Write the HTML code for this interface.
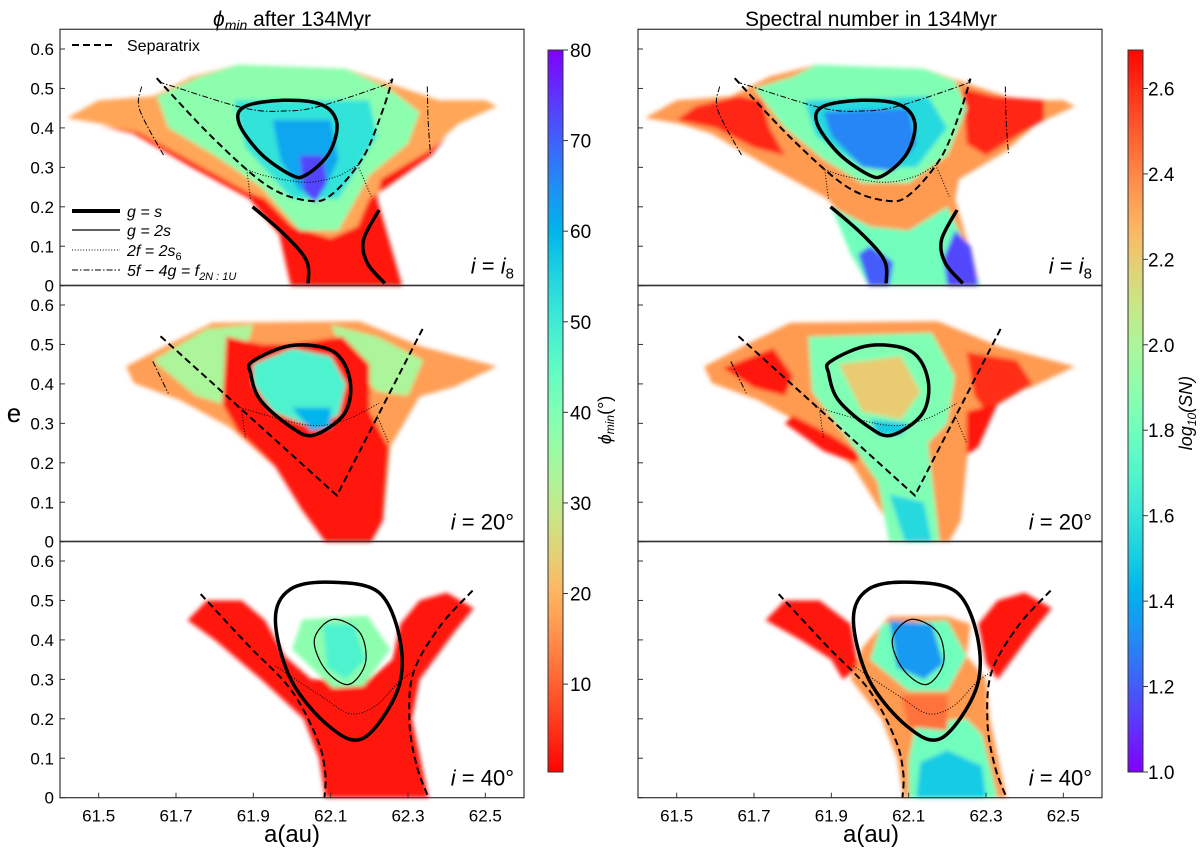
<!DOCTYPE html>
<html><head><meta charset="utf-8">
<style>
html,body{margin:0;padding:0;background:#fff;}
svg{display:block;font-family:"Liberation Sans","DejaVu Sans",sans-serif;}
</style></head>
<body>
<svg id="fig" width="1200" height="850" viewBox="0 0 1200 850" xmlns="http://www.w3.org/2000/svg">
<defs>
<filter id="soft" x="-5%" y="-5%" width="110%" height="110%"><feGaussianBlur stdDeviation="2"/></filter>
<linearGradient id="cbL" x1="0" y1="1" x2="0" y2="0"></linearGradient>
<linearGradient id="cbR" x1="0" y1="1" x2="0" y2="0"></linearGradient>
</defs>
<text x="292" y="26" font-size="21" text-anchor="middle"><tspan font-style="italic">ϕ</tspan><tspan font-style="italic" font-size="14" dy="4">min</tspan><tspan dy="-4"> after 134Myr</tspan></text>
<text x="871" y="26" font-size="21" text-anchor="middle">Spectral number in 134Myr</text>
<text x="14" y="422" font-size="26" text-anchor="middle">e</text>
<text x="292" y="842" font-size="24" text-anchor="middle">a(au)</text>
<text x="871" y="842" font-size="24" text-anchor="middle">a(au)</text>
<g id="layer"></g>
</svg>
<script>
// ---------- data: heat regions (a, e) ----------
const LT_outer=[[61.418,0.425],[61.5,0.47],[61.64,0.48],[61.74,0.53],[61.86,0.56],[62.14,0.55],[62.23,0.52],[62.38,0.47],[62.5,0.47],[62.53,0.455],[62.43,0.41],[62.35,0.34],[62.23,0.27],[62.22,0.22],[62.285,0],[61.997,0],[61.967,0.13],[61.89,0.22],[61.74,0.30],[61.59,0.385],[61.51,0.41]];
const LT_red=[[61.5,0.405],[61.6,0.39],[61.75,0.31],[61.88,0.24],[61.93,0.22],[62.0,0.15],[62.1,0.12],[62.17,0.15],[62.2,0.22],[62.26,0.26],[62.36,0.33],[62.4,0.38],[62.35,0.34],[62.23,0.27],[62.22,0.22],[62.285,0],[61.997,0],[61.967,0.13],[61.89,0.22],[61.74,0.30],[61.59,0.385]];
const LT_green=[[61.65,0.48],[61.76,0.53],[61.86,0.56],[62.14,0.55],[62.25,0.5],[62.33,0.44],[62.3,0.36],[62.2,0.28],[62.12,0.14],[62.02,0.14],[61.92,0.25],[61.8,0.33],[61.68,0.4]];
const LT_cyan=[[61.85,0.47],[62.2,0.47],[62.22,0.38],[62.12,0.22],[62.0,0.22],[61.88,0.35]];
const LT_blue=[[61.95,0.42],[62.1,0.42],[62.12,0.32],[62.08,0.24],[62.02,0.24],[61.97,0.32]];
const LT_purple=[[62.02,0.33],[62.08,0.33],[62.09,0.26],[62.06,0.21],[62.03,0.24]];
const LT_values=[18,2,38,52,62,73];

const RT_redL=[[61.55,0.455],[61.66,0.48],[61.72,0.47],[61.74,0.40],[61.78,0.33],[61.7,0.35],[61.6,0.40],[61.5,0.42]];
const RT_redR=[[62.24,0.5],[62.32,0.48],[62.45,0.47],[62.45,0.42],[62.38,0.38],[62.3,0.33],[62.25,0.36]];
const RT_green=[[61.7,0.5],[61.8,0.53],[61.86,0.56],[62.14,0.55],[62.22,0.52],[62.25,0.45],[62.2,0.33],[62.1,0.26],[61.98,0.26],[61.88,0.32],[61.78,0.4]];
const RT_stem=[[61.9,0.2],[62.0,0.15],[62.1,0.14],[62.2,0.2],[62.24,0.12],[62.285,0],[61.997,0],[61.95,0.08]];
const RT_cyan=[[61.83,0.47],[62.15,0.48],[62.2,0.4],[62.12,0.3],[61.98,0.3],[61.86,0.38]];
const RT_blue=[[61.88,0.44],[62.1,0.45],[62.12,0.36],[62.06,0.29],[61.98,0.3],[61.9,0.38]];
const RT_stemBlueL=[[61.997,0],[62.05,0],[62.06,0.06],[62.0,0.1],[61.97,0.08]];
const RT_stemBlueR=[[62.2,0],[62.28,0],[62.26,0.1],[62.22,0.14],[62.19,0.07]];
const RT_values=[2.35,2.62,2.62,1.85,1.8,1.55,1.3,1.2,1.15];

const LM_outer=[[61.571,0.444],[61.68,0.5],[61.794,0.555],[62.175,0.559],[62.334,0.495],[62.53,0.444],[62.42,0.393],[62.33,0.368],[62.254,0.24],[62.235,0.054],[62.205,0],[62.086,0],[62.027,0.079],[61.957,0.19],[61.839,0.29],[61.71,0.359],[61.591,0.402]];
const LM_greenL=[[61.64,0.46],[61.78,0.54],[61.9,0.55],[61.86,0.42],[61.85,0.34],[61.75,0.37]];
const LM_greenR=[[62.1,0.55],[62.22,0.52],[62.34,0.46],[62.3,0.37],[62.22,0.38],[62.15,0.45]];
const LM_red=[[61.83,0.52],[61.92,0.50],[62.0,0.5],[62.13,0.52],[62.2,0.45],[62.2,0.33],[62.25,0.24],[62.235,0.054],[62.205,0],[62.086,0],[62.027,0.079],[61.957,0.19],[61.86,0.28],[61.82,0.35]];
const LM_cyan=[[61.9,0.45],[62.0,0.49],[62.1,0.47],[62.14,0.4],[62.12,0.32],[62.05,0.29],[61.95,0.33],[61.9,0.4]];
const LM_blue=[[62.0,0.34],[62.1,0.34],[62.1,0.29],[62.05,0.28]];
const LM_values=[17,33,33,2,48,60];

const RM_redL=[[61.62,0.44],[61.75,0.49],[61.8,0.42],[61.78,0.37],[61.7,0.39]];
const RM_redR=[[62.25,0.48],[62.38,0.46],[62.42,0.4],[62.3,0.33],[62.27,0.37]];
const RM_redLowL=[[61.8,0.32],[61.9,0.27],[61.98,0.22],[61.96,0.2],[61.88,0.23],[61.78,0.3]];
const RM_redLowR=[[62.25,0.33],[62.33,0.35],[62.28,0.24],[62.25,0.22]];
const RM_green=[[61.84,0.52],[62.16,0.53],[62.22,0.42],[62.2,0.3],[62.15,0.25],[62.18,0.0],[62.05,0],[62.02,0.15],[61.95,0.25],[61.85,0.38]];
const RM_mix=[[61.92,0.45],[62.08,0.47],[62.13,0.38],[62.08,0.31],[61.98,0.33]];
const RM_cyanLow=[[62.05,0.12],[62.14,0.1],[62.16,0],[62.09,0]];
const RM_cyanMid=[[62.0,0.31],[62.1,0.3],[62.08,0.27],[62.02,0.27]];
const RM_values=[2.35,2.65,2.6,2.65,2.65,1.85,2.2,1.55,1.5];

const LB_red=[[62.086,0],[62.353,0],[62.31,0.2],[62.33,0.3],[62.42,0.42],[62.47,0.48],[62.4,0.52],[62.33,0.5],[62.28,0.44],[62.26,0.35],[62.2,0.3],[62.05,0.3],[61.98,0.36],[61.93,0.45],[61.87,0.5],[61.78,0.5],[61.73,0.45],[61.8,0.4],[61.92,0.3],[62.03,0.2],[62.07,0.1]];
const LB_green=[[62.027,0.452],[62.195,0.461],[62.254,0.376],[62.185,0.283],[62.106,0.278],[62.0,0.376]];
const LB_cyan=[[62.08,0.44],[62.16,0.44],[62.19,0.35],[62.14,0.3],[62.09,0.33]];
const LB_values=[2,38,48];

const RB_redL=[[61.73,0.45],[61.78,0.5],[61.87,0.5],[61.95,0.44],[61.97,0.33],[61.93,0.3],[61.9,0.35],[61.82,0.4]];
const RB_redR=[[62.28,0.44],[62.33,0.5],[62.4,0.52],[62.47,0.48],[62.42,0.42],[62.33,0.3],[62.3,0.34]];
const RB_stem=[[62.086,0],[62.353,0],[62.31,0.2],[62.3,0.3],[62.25,0.36],[62.26,0.44],[62.2,0.46],[62.05,0.46],[61.98,0.38],[61.95,0.3],[62.03,0.2],[62.07,0.1]];
const RB_green=[[62.03,0.44],[62.2,0.45],[62.25,0.36],[62.2,0.27],[62.1,0.27],[62.0,0.35]];
const RB_stemGreen=[[62.1,0],[62.33,0],[62.29,0.16],[62.25,0.2],[62.12,0.19],[62.1,0.1]];
const RB_blue=[[62.05,0.45],[62.16,0.44],[62.19,0.34],[62.14,0.3],[62.07,0.33]];
const RB_stemCyan=[[62.12,0],[62.3,0],[62.29,0.08],[62.2,0.12],[62.13,0.09]];
const RB_redMid=[[62.08,0.26],[62.2,0.26],[62.2,0.17],[62.1,0.18]];
const RB_values=[2.65,2.65,2.35,1.8,1.8,1.35,1.5,2.45];

// ---------- data: resonance curves ----------
const loop0=[[61.878,0.454],[61.977,0.47],[62.076,0.459],[62.116,0.412],[62.096,0.336],[62.037,0.281],[61.997,0.281],[61.918,0.336],[61.863,0.412]];
const sep0=[[61.65,0.526],[61.80,0.37],[61.94,0.251],[62.047,0.215],[62.106,0.234],[62.185,0.327],[62.235,0.446],[62.26,0.525]];
const ddTop0=[[61.66,0.515],[61.68,0.509],[61.878,0.45],[61.987,0.443],[62.076,0.456],[62.24,0.509],[62.254,0.522]];
const ddL0=[[61.611,0.505],[61.606,0.446],[61.67,0.327]];
const ddR0=[[62.35,0.505],[62.352,0.42],[62.358,0.336]];
const dot0=[[61.883,0.294],[61.938,0.277],[62.037,0.262],[62.116,0.277],[62.17,0.306]];
const dot0L=[[61.883,0.294],[61.893,0.217]];
const dot0R=[[62.17,0.306],[62.205,0.226]];
const lowL0=[[61.898,0.2],[61.977,0.133],[62.037,0.065],[62.042,0.006]];
const lowR0=[[62.225,0.192],[62.185,0.116],[62.195,0.057],[62.24,0.006]];

const loop1=[[61.898,0.457],[61.997,0.497],[62.106,0.483],[62.15,0.41],[62.136,0.325],[62.056,0.27],[61.997,0.291],[61.918,0.359],[61.893,0.427]];
const sep1=[[61.66,0.521],[62.116,0.117],[62.339,0.542]];
const dot1=[[61.858,0.342],[62.037,0.296],[62.136,0.308],[62.225,0.351]];
const dot1L=[[61.87,0.33],[61.88,0.26]];
const dot1R=[[62.22,0.32],[62.25,0.25]];
const ddL1=[[61.64,0.457],[61.68,0.376]];

const loop2=[[62.106,0.546],[62.225,0.52],[62.279,0.402],[62.274,0.274],[62.185,0.151],[62.096,0.181],[61.997,0.3],[61.957,0.452],[61.997,0.529]];
const ell2=[[62.106,0.452],[62.175,0.419],[62.19,0.342],[62.146,0.287],[62.086,0.325],[62.058,0.401]];
const sepL2=[[61.764,0.516],[61.888,0.385],[61.997,0.274],[62.066,0.147],[62.086,0.062],[62.084,0]];
const sepR2=[[62.467,0.525],[62.383,0.435],[62.314,0.317],[62.304,0.189],[62.323,0.079],[62.353,0]];
const dot2=[[61.957,0.334],[62.076,0.257],[62.15,0.213],[62.215,0.232],[62.274,0.291],[62.31,0.317]];

// ticks
const eTicks=[0,0.1,0.2,0.3,0.4,0.5,0.6];
const eTickLabels=["0","0.1","0.2","0.3","0.4","0.5","0.6"];
const aTicks=[61.5,61.7,61.9,62.1,62.3,62.5];
const aTickLabels=["61.5","61.7","61.9","62.1","62.3","62.5"];
const cbLTicks=[10,20,30,40,50,60,70,80];
const cbRTicks=[1.0,1.2,1.4,1.6,1.8,2.0,2.2,2.4,2.6];
const cbRTickLabels=["1.0","1.2","1.4","1.6","1.8","2.0","2.2","2.4","2.6"];

// ---------- geometry ----------
const NS="http://www.w3.org/2000/svg";
const root=document.getElementById('layer');
const A0=61.4,A1=62.6,PW=464,EMAX=0.65,KE=394.5;
const panelLeft=[60,638];
const rowBase=[285.7,541.7,797.7];
function xs(col,a){return panelLeft[col]+(a-A0)/(A1-A0)*PW;}
function ys(row,e){return rowBase[row]-e*KE;}
function rainbow(t){t=Math.max(0,Math.min(1,t));
 const r=Math.min(1,Math.abs(2*t-0.5)),g=Math.sin(Math.PI*t),b=Math.cos(Math.PI*t/2);
 return `rgb(${Math.round(r*255)},${Math.round(g*255)},${Math.round(b*255)})`;}
function colL(v){return rainbow(1-v/80);}
function colR(v){return rainbow((v-1.0)/1.7);}
function mk(tag,attrs,parent){const el=document.createElementNS(NS,tag);for(const k in attrs)el.setAttribute(k,attrs[k]);(parent||root).appendChild(el);return el;}
function poly(col,row,pts){return pts.map(p=>xs(col,p[0]).toFixed(1)+','+ys(row,p[1]).toFixed(1)).join(' ');}
function smooth(col,row,pts,closed){
 const P=pts.map(p=>[xs(col,p[0]),ys(row,p[1])]);const n=P.length;
 if(n<3&&!closed){return 'M'+P.map(p=>p[0].toFixed(1)+','+p[1].toFixed(1)).join(' L');}
 const g=i=>closed?P[(i+n)%n]:P[Math.max(0,Math.min(n-1,i))];
 let d='M'+P[0][0].toFixed(1)+','+P[0][1].toFixed(1);
 const m=closed?n:n-1;
 for(let i=0;i<m;i++){const p0=g(i-1),p1=g(i),p2=g(i+1),p3=g(i+2);
  const c1=[p1[0]+(p2[0]-p0[0])/6,p1[1]+(p2[1]-p0[1])/6],c2=[p2[0]-(p3[0]-p1[0])/6,p2[1]-(p3[1]-p1[1])/6];
  d+=` C${c1[0].toFixed(1)},${c1[1].toFixed(1)} ${c2[0].toFixed(1)},${c2[1].toFixed(1)} ${p2[0].toFixed(1)},${p2[1].toFixed(1)}`;}
 return d+(closed?'Z':'');}

// ---------- heat layers ----------
const heat=[
 {col:0,row:0,cf:colL,layers:[LT_outer,LT_red,LT_green,LT_cyan,LT_blue,LT_purple],vals:LT_values},
 {col:1,row:0,cf:colR,layers:[LT_outer,RT_redL,RT_redR,RT_green,RT_stem,RT_cyan,RT_blue,RT_stemBlueL,RT_stemBlueR],vals:RT_values},
 {col:0,row:1,cf:colL,layers:[LM_outer,LM_greenL,LM_greenR,LM_red,LM_cyan,LM_blue],vals:LM_values},
 {col:1,row:1,cf:colR,layers:[LM_outer,RM_redL,RM_redR,RM_redLowL,RM_redLowR,RM_green,RM_mix,RM_cyanLow,RM_cyanMid],vals:RM_values},
 {col:0,row:2,cf:colL,layers:[LB_red,LB_green,LB_cyan],vals:LB_values},
 {col:1,row:2,cf:colR,layers:[RB_redL,RB_redR,RB_stem,RB_green,RB_stemGreen,RB_blue,RB_stemCyan,RB_redMid],vals:RB_values}
];
heat.forEach((h,hi)=>{
 const g=mk('g',{filter:'url(#soft)'});
 
 
 h.layers.forEach((L,li)=>{
  const p=mk('polygon',{points:poly(h.col,h.row,L),fill:h.cf(h.vals[li])},g);
  
  
 });
});

// ---------- curves ----------
const THICK={stroke:'#000','stroke-width':3.5,fill:'none'};
const SEP={stroke:'#000','stroke-width':2,fill:'none','stroke-dasharray':'7,4'};
const DD={stroke:'#000','stroke-width':1,fill:'none','stroke-dasharray':'6,2,1.5,2'};
const DOT={stroke:'#000','stroke-width':1,fill:'none','stroke-dasharray':'1,1.8'};
const THIN={stroke:'#000','stroke-width':1.2,fill:'none'};
const curves=[
 {row:0,pts:loop0,st:THICK,closed:true,name:'g-equals-s-curve'},
 {row:0,pts:sep0,st:SEP,name:'separatrix'},
 {row:0,pts:ddTop0,st:DD,name:'resonance-5f-4g-curve'},
 {row:0,pts:ddL0,st:DD,name:'resonance-5f-4g-curve'},
 {row:0,pts:ddR0,st:DD,name:'resonance-5f-4g-curve'},
 {row:0,pts:dot0,st:DOT,name:'secular-2f-2s6-curve'},
 {row:0,pts:dot0L,st:DOT,name:'secular-2f-2s6-curve'},
 {row:0,pts:dot0R,st:DOT,name:'secular-2f-2s6-curve'},
 {row:0,pts:lowL0,st:THICK,name:'g-equals-s-curve'},
 {row:0,pts:lowR0,st:THICK,name:'g-equals-s-curve'},
 {row:1,pts:loop1,st:THICK,closed:true,name:'g-equals-s-curve'},
 {row:1,pts:sep1,st:SEP,name:'separatrix'},
 {row:1,pts:dot1,st:DOT,name:'secular-2f-2s6-curve'},
 {row:1,pts:dot1L,st:DOT,name:'secular-2f-2s6-curve'},
 {row:1,pts:dot1R,st:DOT,name:'secular-2f-2s6-curve'},
 {row:1,pts:ddL1,st:DD,name:'resonance-5f-4g-curve'},
 {row:2,pts:loop2,st:THICK,closed:true,name:'g-equals-s-curve'},
 {row:2,pts:ell2,st:THIN,closed:true,name:'g-equals-2s-curve'},
 {row:2,pts:sepL2,st:SEP,name:'separatrix'},
 {row:2,pts:sepR2,st:SEP,name:'separatrix'},
 {row:2,pts:dot2,st:DOT,name:'secular-2f-2s6-curve'}
];
[0,1].forEach(col=>{curves.forEach(c=>{
 const attrs=Object.assign({},c.st);attrs.d=(c.pts===sep1)?('M'+c.pts.map(p=>xs(col,p[0]).toFixed(1)+','+ys(c.row,p[1]).toFixed(1)).join(' L')):smooth(col,c.row,c.pts,!!c.closed);
 const el=mk('path',attrs);
 
 
});});

// ---------- frames, ticks ----------
[0,1].forEach(col=>{[0,1,2].forEach(row=>{
 const x0=panelLeft[col],y1=rowBase[row],y0=y1-EMAX*KE;
 const f=mk('rect',{x:x0,y:y0,width:PW,height:y1-y0,fill:'none',stroke:'#333','stroke-width':1.2});
 
 
 eTicks.forEach((e,i)=>{
  const y=ys(row,e);
  mk('line',{x1:x0,x2:x0+5,y1:y,y2:y,stroke:'#333','stroke-width':1});
  if(col===0){const t=mk('text',{x:x0-6,y:y+6,'font-size':17,'text-anchor':'end'});t.textContent=eTickLabels[i];
   
   }
 });
 if(row===2){aTicks.forEach((a,i)=>{const x=xs(col,a);
  mk('line',{x1:x,x2:x,y1:y1,y2:y1-5,stroke:'#333','stroke-width':1});
  const t=mk('text',{x:x,y:y1+24,'font-size':17,'text-anchor':'middle'});t.textContent=aTickLabels[i];
  
  });}
 const lab=mk('text',{x:x0+PW-10,y:y1-12,'font-size':22,'text-anchor':'end'});
 lab.innerHTML=row===0?'<tspan font-style="italic">i</tspan> = <tspan font-style="italic">i</tspan><tspan font-size="15" dy="5">8</tspan>':(row===1?'<tspan font-style="italic">i</tspan> = 20°':'<tspan font-style="italic">i</tspan> = 40°');
 
 
});});

// ---------- legend ----------
function legLine(x1,x2,y,st,name,text){
 const l=mk('line',Object.assign({x1:x1,x2:x2,y1:y,y2:y},st));
 
 
 const t=mk('text',{x:127,y:y+6,'font-size':16});t.innerHTML=text;
 
 
}
legLine(72,115,45,SEP,'separatrix','Separatrix');
legLine(72,120,211,{stroke:'#000','stroke-width':4},'g-equals-s','<tspan font-style="italic">g = s</tspan>');
legLine(72,120,230,{stroke:'#000','stroke-width':1.2},'g-equals-2s','<tspan font-style="italic">g = 2s</tspan>');
legLine(72,120,250,DOT,'2f-2s6','<tspan font-style="italic">2f = 2s</tspan><tspan font-size="11" dy="4">6</tspan>');
legLine(72,120,270,DD,'5f-4g','<tspan font-style="italic">5f − 4g = f</tspan><tspan font-size="11" dy="4" font-style="italic">2N : 1U</tspan>');

// ---------- colorbars ----------
const CB_TOP=50,CB_BOT=772;
function stops(id,cf,v0,v1){const gr=document.getElementById(id);for(let i=0;i<=20;i++){const v=v0+(v1-v0)*i/20;mk('stop',{offset:(i*5)+'%','stop-color':cf(v)},gr);}}
stops('cbL',colL,0.3,80);stops('cbR',colR,1.0,2.69);
const cbl=mk('rect',{x:548,y:CB_TOP,width:15,height:CB_BOT-CB_TOP,fill:'url(#cbL)',stroke:'#333','stroke-width':1});


cbLTicks.forEach(v=>{const y=CB_BOT-(v-0.3)/(80-0.3)*(CB_BOT-CB_TOP);
 mk('line',{x1:563,x2:568,y1:y,y2:y,stroke:'#333'});
 const t=mk('text',{x:570,y:y+7,'font-size':19});t.textContent=v;
 
 });
const cbr=mk('rect',{x:1128,y:CB_TOP,width:15,height:CB_BOT-CB_TOP,fill:'url(#cbR)',stroke:'#333','stroke-width':1});


cbRTicks.forEach((v,i)=>{const y=CB_BOT-(v-1.0)/(2.69-1.0)*(CB_BOT-CB_TOP);
 mk('line',{x1:1143,x2:1148,y1:y,y2:y,stroke:'#333'});
 const t=mk('text',{x:1148,y:y+7,'font-size':19});t.textContent=cbRTickLabels[i];
 
 });
const cl=mk('text',{x:0,y:0,'font-size':18,'text-anchor':'middle',transform:'translate(611,420) rotate(-90)'});
cl.innerHTML='<tspan font-style="italic">ϕ</tspan><tspan font-style="italic" font-size="12" dy="3">min</tspan><tspan dy="-3">(°)</tspan>';


const cr=mk('text',{x:0,y:0,'font-size':18,'text-anchor':'middle',transform:'translate(1192,413) rotate(-90)','font-style':'italic'});
cr.innerHTML='log<tspan font-size="12" dy="4">10</tspan><tspan dy="-4">(SN)</tspan>';


</script>
</body></html>
